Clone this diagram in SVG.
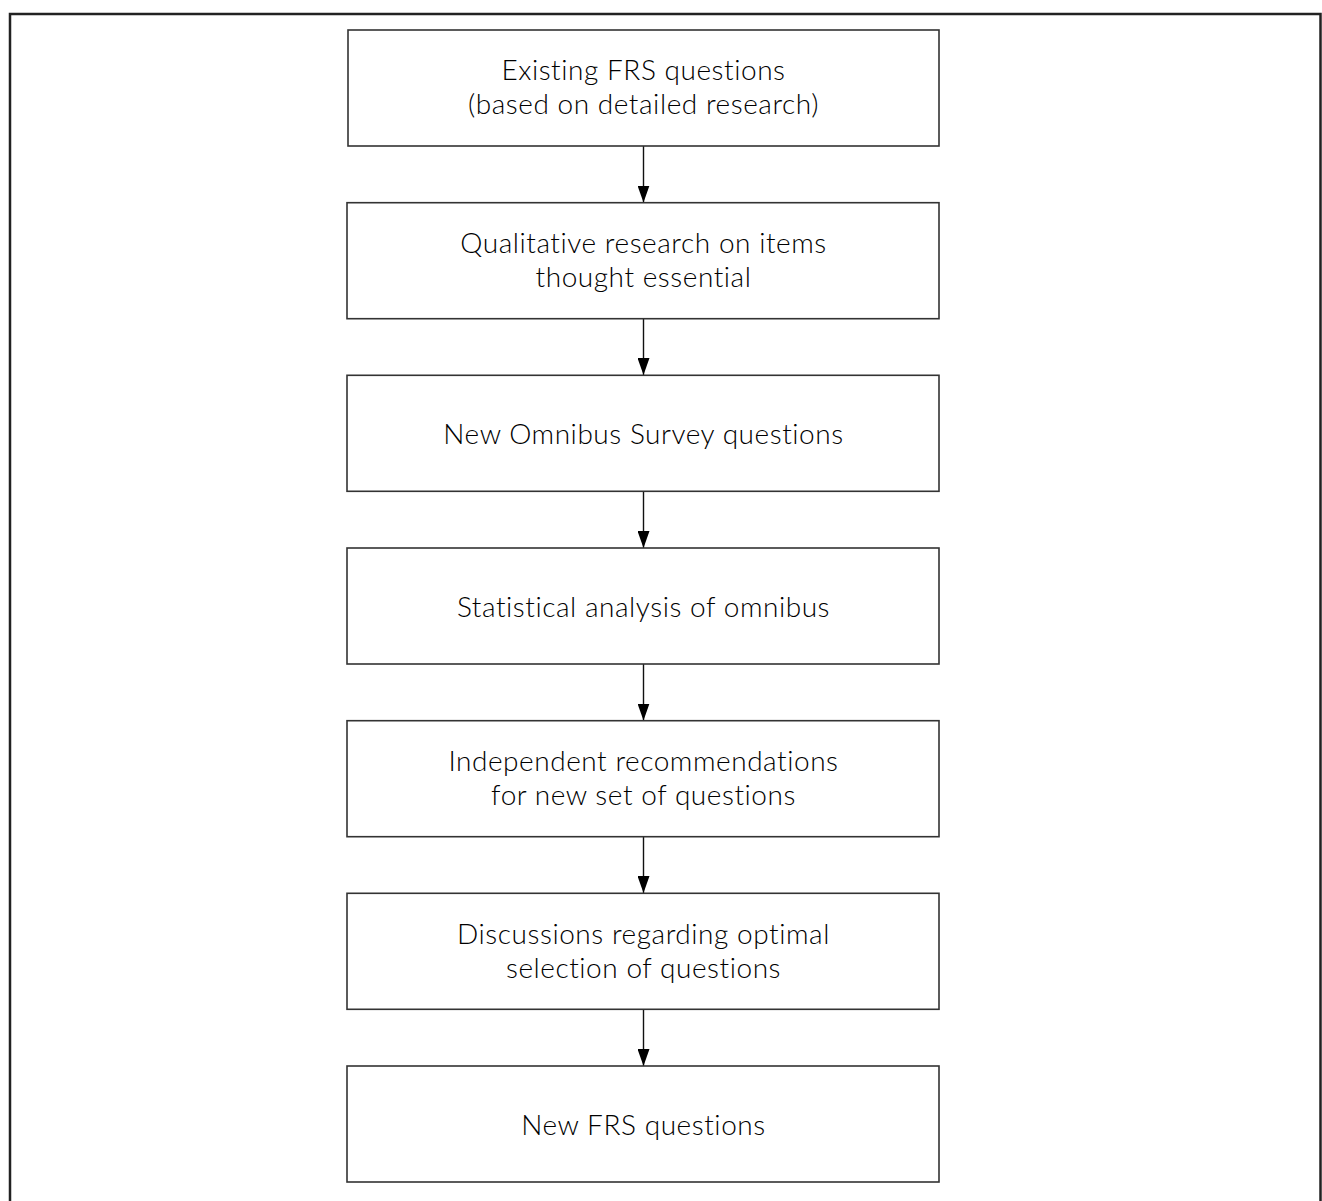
<svg xmlns="http://www.w3.org/2000/svg" width="1322" height="1201" viewBox="0 0 1322 1201">
<style>
.box{fill:#fff;stroke:#333;stroke-width:1.6}
.t{font-family:Lato,"Open Sans","Liberation Sans",sans-serif;font-size:28px;font-weight:300;letter-spacing:0.55px;font-variant-ligatures:none;fill:#000;text-anchor:middle}
.c{stroke:#111;stroke-width:1.4;fill:none}
.frame{fill:none;stroke:#222;stroke-width:2.5}
</style>
<defs>
<marker id="ah" markerUnits="userSpaceOnUse" markerWidth="17" markerHeight="12" viewBox="0 0 17 12" refX="17" refY="6" orient="auto">
<path d="M0,0 L17,6 L0,12 Z" fill="#000"/>
</marker>
</defs>
<rect width="1322" height="1201" fill="#fff"/>
<path class="frame" d="M10,1201 V14 H1320.5 V1201"/>
<g id="connectors">
<line class="c" x1="643.5" y1="146" x2="643.5" y2="202.5" marker-end="url(#ah)"/>
<line class="c" x1="643.5" y1="319" x2="643.5" y2="375" marker-end="url(#ah)"/>
<line class="c" x1="643.5" y1="491.5" x2="643.5" y2="548" marker-end="url(#ah)"/>
<line class="c" x1="643.5" y1="664" x2="643.5" y2="720.5" marker-end="url(#ah)"/>
<line class="c" x1="643.5" y1="837" x2="643.5" y2="893" marker-end="url(#ah)"/>
<line class="c" x1="643.5" y1="1009.5" x2="643.5" y2="1066" marker-end="url(#ah)"/>
</g>
<g id="n1"><rect class="box" x="348" y="30" width="591" height="116"/><text class="t" x="643.5" y="80">Existing FRS questions</text><text class="t" x="643.5" y="114">(based on detailed research)</text></g>
<g id="n2"><rect class="box" x="347" y="202.7" width="592" height="116"/><text class="t" x="643.5" y="253">Qualitative research on items</text><text class="t" x="643.5" y="287">thought essential</text></g>
<g id="n3"><rect class="box" x="347" y="375.3" width="592" height="116"/><text class="t" x="643.5" y="444">New Omnibus Survey questions</text></g>
<g id="n4"><rect class="box" x="347" y="548" width="592" height="116"/><text class="t" x="643.5" y="617">Statistical analysis of omnibus</text></g>
<g id="n5"><rect class="box" x="347" y="720.7" width="592" height="116"/><text class="t" x="643.5" y="771">Independent recommendations</text><text class="t" x="643.5" y="805">for new set of questions</text></g>
<g id="n6"><rect class="box" x="347" y="893.3" width="592" height="116"/><text class="t" x="643.5" y="944">Discussions regarding optimal</text><text class="t" x="643.5" y="978">selection of questions</text></g>
<g id="n7"><rect class="box" x="347" y="1066" width="592" height="116"/><text class="t" x="643.5" y="1135">New FRS questions</text></g>
</svg>
